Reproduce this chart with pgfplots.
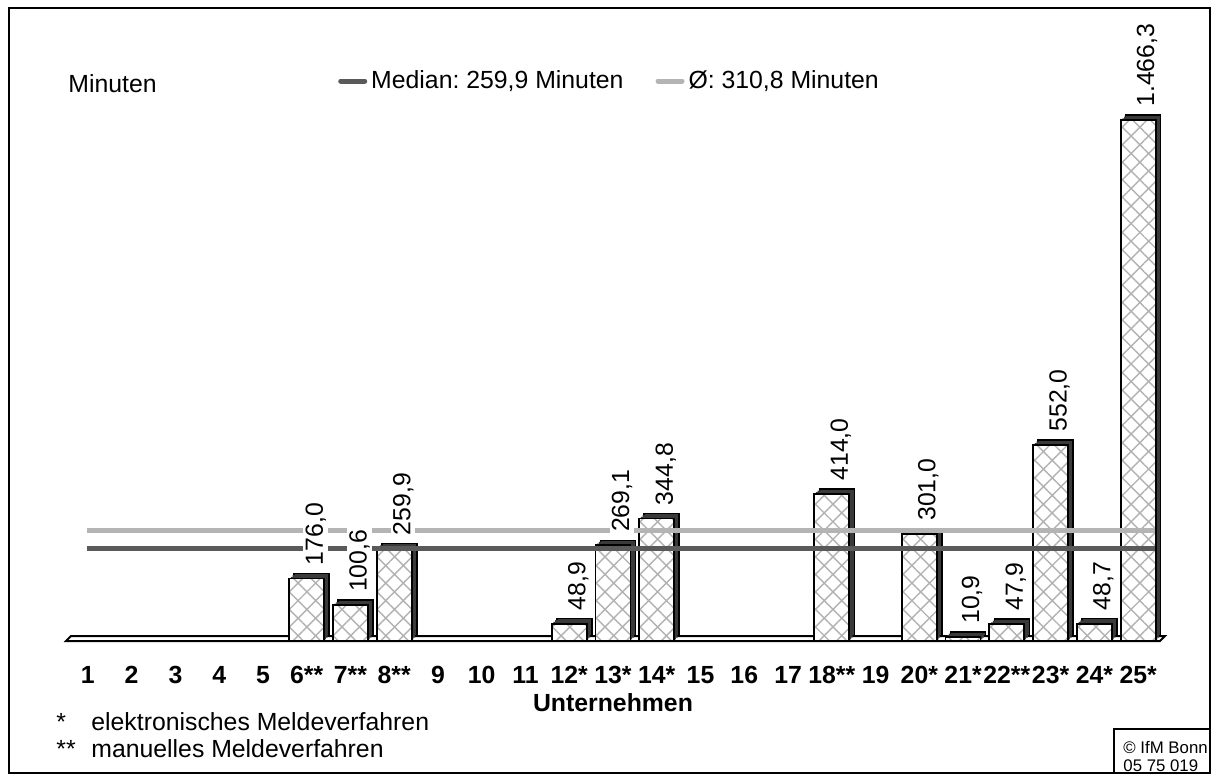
\documentclass[border=0pt]{standalone}
\usepackage{fontspec}
\setmainfont{Liberation Sans}
\usepackage{pgfplots}
\usepackage{pgfplotstable}
\pgfplotsset{compat=1.18}
\usetikzlibrary{patterns.meta}
\definecolor{medc}{HTML}{5A5A5A}
\definecolor{meanc}{HTML}{B4B4B4}
\definecolor{shadec}{HTML}{3A3A3A}
\newcommand{\fs}{\fontsize{12.4}{14.5}\selectfont}
\frenchspacing

\pgfplotstableread{
x y
6 176.0
7 100.6
8 259.9
12 48.9
13 269.1
14 344.8
18 414.0
20 301.0
21 10.9
22 47.9
23 552.0
24 48.7
25 1466.3
}\bars

\begin{document}
\begin{tikzpicture}
\useasboundingbox (0,0) rectangle (606.5pt,388pt);
\draw[line width=1pt] (4.5pt,1.5pt) rectangle (605pt,384pt);
\begin{axis}[
  at={(33pt,67.5pt)}, anchor=south west,
  scale only axis, width=547pt, height=284.25pt,
  xmin=0.5, xmax=25.5, ymin=0, ymax=1600, clip=false,
  axis line style={draw=none}, tick style={draw=none}, ytick=\empty,
  xtick={1,...,25},
  xticklabels={1,2,3,4,5,6**,7**,8**,9,10,11,12*,13*,14*,15,16,17,18**,19,20*,21*,22**,23*,24*,25*},
  xticklabel style={anchor=base, yshift=-21pt, font=\bfseries\fs},
  legend style={at={(0.243,0.985)}, anchor=west, draw=none, fill=none,
    font=\fs, /tikz/every even column/.append style={column sep=14pt}},
  legend columns=2,
  legend image code/.code={\draw[#1, line cap=round] (0pt,0pt) -- (12pt,0pt);},
]
\draw[line width=1pt, fill=white] (axis cs:0.5,0) -- (axis cs:25.5,0) -- ++(2.5pt,2.5pt) -- ++(-547pt,0pt) -- cycle;

\addplot[ybar, bar width=0.8, bar shift=0pt, fill=shadec, draw=black, line width=0.8pt,
  xshift=2.5pt, yshift=2.5pt, forget plot] table[x=x,y=y]{\bars};
\addplot[ybar, bar width=0.8, bar shift=0pt, fill=shadec, draw=none,
  xshift=1.7pt, yshift=1.7pt, forget plot] table[x=x,y=y]{\bars};
\addplot[ybar, bar width=0.8, bar shift=0pt, fill=shadec, draw=none,
  xshift=0.85pt, yshift=0.85pt, forget plot] table[x=x,y=y]{\bars};
\addplot[ybar, bar width=0.8, bar shift=0pt, fill=white, draw=black, line width=0.9pt,
  postaction={pattern={Hatch[angle=45,distance=6.2pt,line width=0.7pt]}, pattern color=black!30},
  forget plot] table[x=x,y=y]{\bars};

\addplot[medc, line width=2.5pt] coordinates {(0.98,259.9) (25.39,259.9)};
\addlegendentry{Median: 259,9 Minuten}
\addplot[meanc, line width=2.5pt] coordinates {(0.98,310.8) (25.39,310.8)};
\addlegendentry{Ø: 310,8 Minuten}

\addplot[ybar, bar width=0.8, bar shift=0pt, draw=none, fill=none, forget plot,
  nodes near coords={\pgfmathprintnumber[fixed, fixed zerofill, precision=1, use comma, 1000 sep={.}, assume math mode=true]{\pgfplotspointmeta}},
  every node near coord/.append style={font=\fs, text=black, fill=white, inner sep=1pt,
    xshift=4.5pt, yshift=5.5pt, rotate=90, anchor=west}] table[x=x,y=y]{\bars};
\end{axis}

\node[anchor=west, font=\fs, inner sep=0pt] at (34pt,346pt) {Minuten};
\node[anchor=base, font=\bfseries\fs, inner sep=0pt] at (306.5pt,32.5pt) {Unternehmen};
\node[anchor=base west, font=\fs, inner sep=0pt] at (28pt,23pt) {*};
\node[anchor=base west, font=\fs, inner sep=0pt] at (45.5pt,23pt) {elektronisches Meldeverfahren};
\node[anchor=base west, font=\fs, inner sep=0pt] at (28pt,9.5pt) {**};
\node[anchor=base west, font=\fs, inner sep=0pt] at (45.5pt,9.5pt) {manuelles Meldeverfahren};
\draw[line width=0.8pt] (557pt,1.5pt) rectangle (605pt,23.5pt);
\node[anchor=base west, font=\fontsize{8.4}{10}\selectfont, inner sep=0pt] at (561.5pt,11.5pt) {© IfM Bonn};
\node[anchor=base west, font=\fontsize{8.4}{10}\selectfont, inner sep=0pt] at (561.5pt,2.2pt) {05 75 019};
\end{tikzpicture}
\end{document}
